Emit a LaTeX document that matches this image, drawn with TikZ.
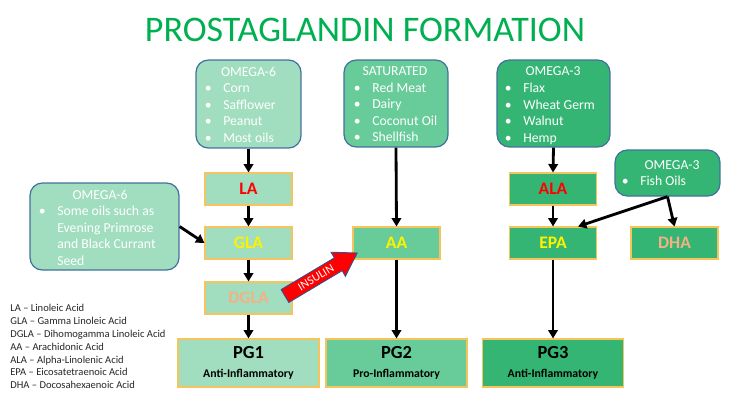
\documentclass[tikz,border=0pt]{standalone}
\usepackage{fontspec}
\setmainfont{Carlito}
\usetikzlibrary{arrows.meta,calc}
\definecolor{lightg}{HTML}{A1DDBF}
\definecolor{midg}{HTML}{67CC99}
\definecolor{darkg}{HTML}{35B574}
\definecolor{titleg}{HTML}{00B050}
\definecolor{roundborder}{HTML}{41719C}
\definecolor{rectborder}{HTML}{F5C55B}
\definecolor{salmon}{HTML}{F4B183}
\definecolor{insborder}{HTML}{2F528F}
\newcommand\bul{\makebox[10.5pt][l]{•}}
\newcommand\nobul{\makebox[10.5pt][l]{}}
\begin{document}
\begin{tikzpicture}[x=0.02cm,y=-0.02cm,
  srcbox/.style={draw=roundborder, line width=0.7pt, rounded corners=7pt, inner sep=0pt},
  acidbox/.style={draw=rectborder, line width=0.6pt, inner sep=0pt, minimum width=1.74cm, minimum height=0.64cm, font=\fontsize{10}{12}\selectfont\bfseries},
  pgbox/.style={draw=rectborder, line width=0.6pt, inner sep=0pt, minimum width=2.82cm, minimum height=0.96cm, align=center},
  hdr/.style={text=white, inner sep=0pt, font=\fontsize{7.8}{9}\selectfont},
  item/.style={text=white, inner sep=0pt, anchor=base west, font=\fontsize{7.8}{9}\selectfont},
  legend/.style={inner sep=0pt, anchor=base west, text=black!85, font=\fontsize{6}{7}\selectfont},
  conn/.style={line width=1.6pt, -{Triangle[length=4.8pt,width=5.4pt]}}
]
\useasboundingbox (0,0) rectangle (730,410);

% title
\node[text=titleg, inner sep=0pt, font=\fontsize{20.5}{24}\selectfont] (title) at (365,30) {PROSTAGLANDIN FORMATION};

% source boxes
\node[srcbox, fill=lightg, minimum width=2.1cm, minimum height=1.76cm] (o6) at (248.5,104) {};
\node[srcbox, fill=midg, minimum width=2.08cm, minimum height=1.74cm] (sat) at (396,103.5) {};
\node[srcbox, fill=darkg, minimum width=2.26cm, minimum height=1.74cm] (o3) at (553.5,103.5) {};
\node[srcbox, fill=lightg, minimum width=2.98cm, minimum height=1.74cm] (o6l) at (104.5,226.5) {};
\node[srcbox, fill=darkg, minimum width=2.1cm, minimum height=0.92cm] (fish) at (667.5,173) {};

% headers
\node[hdr] (o6h) at (248.5,72) {OMEGA-6};
\node[hdr] (sath) at (395,71.5) {SATURATED};
\node[hdr] (o3h) at (553,71.5) {OMEGA-3};
\node[hdr] (o6lh) at (100,195) {OMEGA-6};
\node[hdr] (fishh) at (672,165) {OMEGA-3};

\foreach \t [count=\i] in {Corn,Safflower,Peanut,Most oils}
  \node[item] (o6i\i) at (204.5,{92.5+16.5*(\i-1)}) {\bul\t};
\foreach \t [count=\i] in {Red Meat,Dairy,Coconut Oil,Shellfish}
  \node[item] (sati\i) at (353.5,{92+16.5*(\i-1)}) {\bul\t};
\foreach \t [count=\i] in {Flax,Wheat Germ,Walnut,Hemp}
  \node[item] (o3i\i) at (504.5,{92.5+16.5*(\i-1)}) {\bul\t};
\node[item] (o6li1) at (38.5,215.5) {\bul Some oils such as};
\node[item] (o6li2) at (38.5,232) {\nobul Evening Primrose};
\node[item] (o6li3) at (38.5,248.5) {\nobul and Black Currant};
\node[item] (o6li4) at (38.5,265) {\nobul Seed};
\node[item] (fishi1) at (621.5,185.5) {\bul Fish Oils};

% acid boxes
\node[acidbox, fill=lightg, text=red] (la) at (248.5,189) {LA};
\node[acidbox, fill=lightg, text=yellow] (gla) at (248.5,243) {GLA};
\node[acidbox, fill=lightg, text=salmon] (dgla) at (248.5,298) {DGLA};
\node[acidbox, fill=midg, text=yellow] (aa) at (396.5,243) {AA};
\node[acidbox, fill=darkg, text=red] (ala) at (553,189) {ALA};
\node[acidbox, fill=darkg, text=yellow] (epa) at (553,243) {EPA};
\node[acidbox, fill=darkg, text=salmon] (dha) at (674.5,243) {DHA};

% prostaglandin boxes
\node[pgbox, fill=lightg] (pg1) at (248.5,363) {{\fontsize{10.5}{12}\selectfont\bfseries PG1}\\[-1pt]{\fontsize{6.7}{8}\selectfont\bfseries Anti-Inflammatory}};
\node[pgbox, fill=midg] (pg2) at (396.5,363) {{\fontsize{10.5}{12}\selectfont\bfseries PG2}\\[-1pt]{\fontsize{6.7}{8}\selectfont\bfseries Pro-Inflammatory}};
\node[pgbox, fill=darkg] (pg3) at (553,363) {{\fontsize{10.5}{12}\selectfont\bfseries PG3}\\[-1pt]{\fontsize{6.7}{8}\selectfont\bfseries Anti-Inflammatory}};

% connectors
\draw[conn] (o6.south) -- (la.north);
\draw[conn] (la.south) -- (gla.north);
\draw[conn] (gla.south) -- (dgla.north);
\draw[conn] (dgla.south) -- (pg1.north);
\draw[conn] (sat.south) -- (aa.north);
\draw[conn] (aa.south) -- (pg2.north);
\draw[conn] (o3.south) -- (ala.north);
\draw[conn] (ala.south) -- (epa.north);
\draw[conn] (epa.south) -- (pg3.north);
\draw[conn] (o6l.east) -- (gla.west);
\draw[conn] (fish.south) -- ($(epa.north)+(25,0)$);
\draw[conn] (fish.south) -- (dha.north);

% insulin arrow
\begin{scope}[shift={(285,296)}, rotate=30.8]
  \filldraw[fill=red, draw=insborder, line width=0.5pt] (0,-7.5) -- (62,-7.5) -- (62,-14) -- (84,0) -- (62,14) -- (62,7.5) -- (0,7.5) -- cycle;
  \node[rotate=30.8, text=white, inner sep=0pt, font=\fontsize{6.8}{8}\selectfont] (ins) at (36,0) {INSULIN};
\end{scope}

% legend
\foreach \t [count=\i] in {LA – Linoleic Acid,GLA – Gamma Linoleic Acid,DGLA – Dihomogamma Linoleic Acid,AA – Arachidonic Acid,ALA – Alpha-Linolenic Acid,EPA – Eicosatetraenoic Acid,DHA – Docosahexaenoic Acid}
  \node[legend] (leg\i) at (10,{311.4+12.9*(\i-1)}) {\t};
\end{tikzpicture}
\end{document}
